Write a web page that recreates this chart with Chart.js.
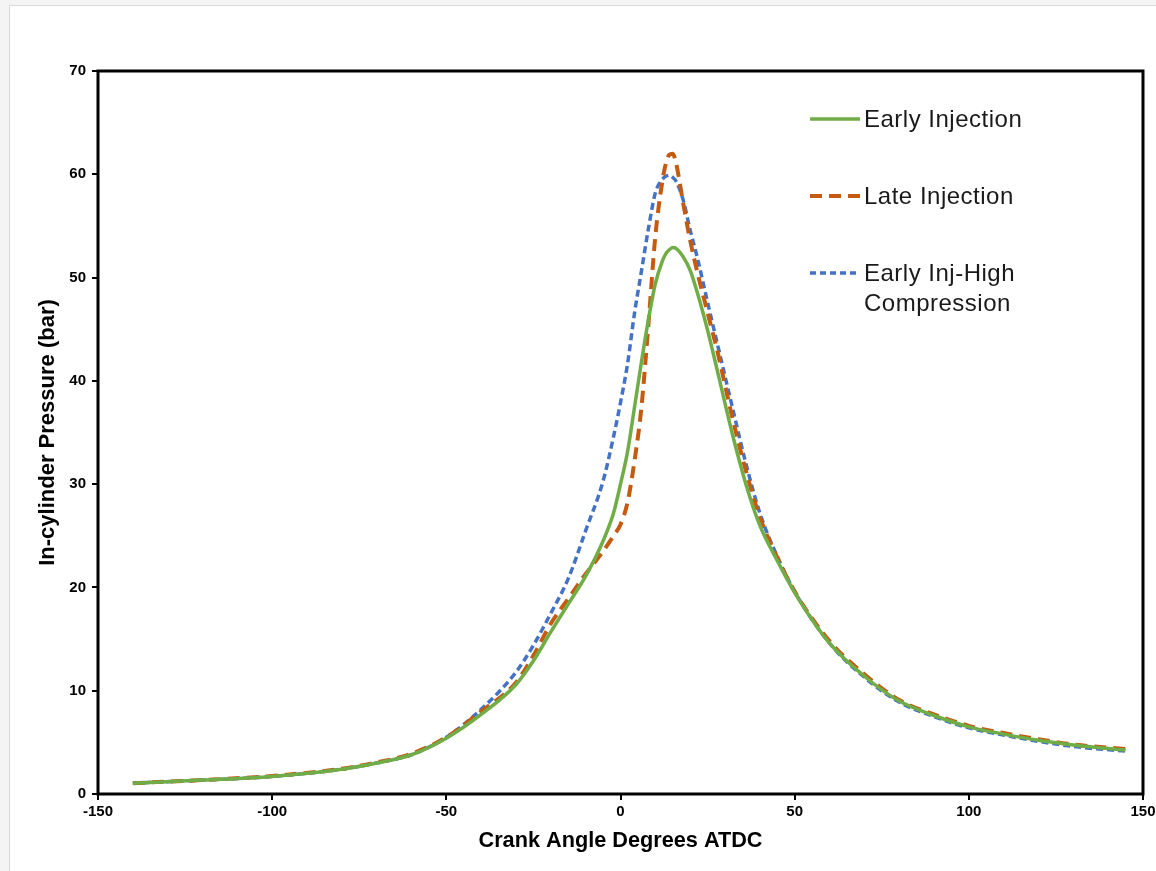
<!DOCTYPE html>
<html>
<head>
<meta charset="utf-8">
<script src="https://cdn.jsdelivr.net/npm/chart.js@4"></script>
<style>
  html, body { margin: 0; padding: 0; background: #f4f4f4; }
  #panel { position: absolute; left: 9px; top: 5px; width: 1200px; height: 900px; background: #fff; border: 1px solid #d9d9d9; }
  #chart { position: absolute; left: 0; top: 0; }
</style>
</head>
<body>
<div id="panel"></div>
<canvas id="chart" width="1156" height="871"></canvas>
<script>
// crank angle (deg ATDC)
const angles = [-140, -120, -100, -80, -70, -60, -50, -40, -30, -25, -20, -15, -10, -5, -2, 0, 2, 4, 6, 8,
  10, 12, 13, 14, 15, 16, 18, 20, 22, 25, 28, 32, 36, 40, 45, 50, 60, 70, 80, 90, 100, 110, 120, 130, 145];

// in-cylinder pressure (bar)
const earlyInjection = [1.05, 1.35, 1.7, 2.4, 3.0, 3.8, 5.4, 7.7, 10.6, 12.9, 15.7, 18.4, 21.1, 24.5, 27.2, 30.0, 33.1, 37.4, 41.8, 45.9,
  49.4, 51.6, 52.3, 52.7, 52.9, 52.8, 52.0, 50.7, 48.6, 44.9, 40.7, 35.0, 30.0, 26.0, 22.6, 19.5, 14.6, 11.4, 9.0, 7.6, 6.5, 5.8, 5.2, 4.75, 4.25];
const lateInjection = [1.05, 1.35, 1.75, 2.45, 3.05, 3.9, 5.5, 8.0, 10.8, 13.4, 16.5, 18.9, 21.3, 23.5, 25.0, 26.1, 28.2, 32.2, 37.4, 45.4,
  54.0, 59.3, 61.0, 61.9, 62.0, 61.0, 57.2, 53.6, 50.6, 46.6, 42.6, 36.6, 31.3, 26.8, 22.9, 19.6, 14.8, 11.6, 9.1, 7.7, 6.6, 5.9, 5.3, 4.8, 4.35];
const earlyInjHighComp = [1.05, 1.35, 1.7, 2.4, 3.0, 3.8, 5.5, 8.2, 11.8, 14.4, 17.5, 20.85, 25.5, 30.3, 34.6, 37.9, 41.6, 46.5, 50.6, 54.7,
  58.2, 59.5, 59.8, 59.9, 59.7, 59.3, 57.5, 54.6, 52.0, 47.6, 43.3, 37.6, 32.0, 27.2, 23.0, 19.6, 14.6, 11.3, 8.9, 7.5, 6.4, 5.7, 5.1, 4.6, 4.15];

const seriesLabels = ['Early Injection', 'Late Injection', 'Early Inj-High Compression'];
const legendLines = [['Early Injection'], ['Late Injection'], ['Early Inj-High', 'Compression']];

const toPoints = vals => angles.map((a, i) => ({ x: a, y: vals[i] }));

// box around the plot area
const frame = {
  id: 'frame',
  afterDatasetsDraw(chart) {
    const { ctx, chartArea: a } = chart;
    ctx.save();
    ctx.strokeStyle = '#000';
    ctx.lineWidth = 3;
    ctx.strokeRect(a.left, a.top, a.right - a.left, a.bottom - a.top);
    ctx.restore();
  }
};

// legend drawn inside the plot, with a two-line label
const sideLegend = {
  id: 'sideLegend',
  afterDraw(chart) {
    const ctx = chart.ctx;
    const rows = [119, 196, 273];
    ctx.save();
    chart.data.datasets.forEach((d, i) => {
      const y = rows[i];
      ctx.beginPath();
      ctx.strokeStyle = d.borderColor;
      ctx.lineWidth = d.borderWidth;
      ctx.setLineDash(i === 2 ? [6, 4] : (d.borderDash || []));
      ctx.moveTo(810, y);
      ctx.lineTo(860, y);
      ctx.stroke();
      ctx.setLineDash([]);
      ctx.fillStyle = '#1a1a1a';
      ctx.font = '24px "Liberation Sans", Arial, sans-serif';
      ctx.letterSpacing = '0.5px';
      ctx.textBaseline = 'middle';
      legendLines[i].forEach((t, j) => ctx.fillText(t, 864, y + 1 + j * 30));
    });
    ctx.restore();
  }
};

const tickFont = { family: '"Liberation Sans", Arial, sans-serif', size: 15, weight: 'bold' };

new Chart(document.getElementById('chart'), {
  type: 'line',
  data: {
    datasets: [
      {
        label: seriesLabels[0],
        data: toPoints(earlyInjection),
        borderColor: '#70ad47',
        borderWidth: 3.5,
        pointRadius: 0,
        cubicInterpolationMode: 'monotone'
      },
      {
        label: seriesLabels[1],
        data: toPoints(lateInjection),
        borderColor: '#c55a11',
        borderWidth: 4,
        borderDash: [12, 7],
        pointRadius: 0,
        cubicInterpolationMode: 'monotone'
      },
      {
        label: seriesLabels[2],
        data: toPoints(earlyInjHighComp),
        borderColor: '#4472c4',
        borderWidth: 3.5,
        borderDash: [7, 4],
        pointRadius: 0,
        cubicInterpolationMode: 'monotone'
      }
    ]
  },
  options: {
    responsive: false,
    animation: false,
    devicePixelRatio: 1,
    layout: { padding: { left: 0, right: 13, top: 71, bottom: 0 } },
    plugins: {
      legend: { display: false },
      tooltip: { enabled: false }
    },
    scales: {
      x: {
        type: 'linear',
        min: -150,
        max: 150,
        ticks: { stepSize: 50, color: '#000', font: tickFont, padding: 3, maxRotation: 0 },
        grid: { drawOnChartArea: false, color: '#000', tickLength: 6, lineWidth: 2 },
        border: { display: false },
        title: {
          display: true,
          text: 'Crank Angle Degrees ATDC',
          color: '#000',
          font: { family: '"Liberation Sans", Arial, sans-serif', size: 21.7, weight: 'bold' },
          padding: { top: 0, bottom: 17 }
        },
        afterFit(scale) {
          scale.height = 77;
          scale.paddingRight = 0;
        }
      },
      y: {
        min: 0,
        max: 70,
        ticks: { stepSize: 10, color: '#000', font: tickFont, padding: 6 },
        grid: { drawOnChartArea: false, color: '#000', tickLength: 6, lineWidth: 2 },
        border: { display: false },
        title: {
          display: true,
          text: 'In-cylinder Pressure (bar)',
          color: '#000',
          font: { family: '"Liberation Sans", Arial, sans-serif', size: 22, weight: 'bold' },
          padding: { top: 35, bottom: 0 }
        },
        afterFit(scale) { scale.width = 98; }
      }
    }
  },
  plugins: [frame, sideLegend]
});
</script>
</body>
</html>
